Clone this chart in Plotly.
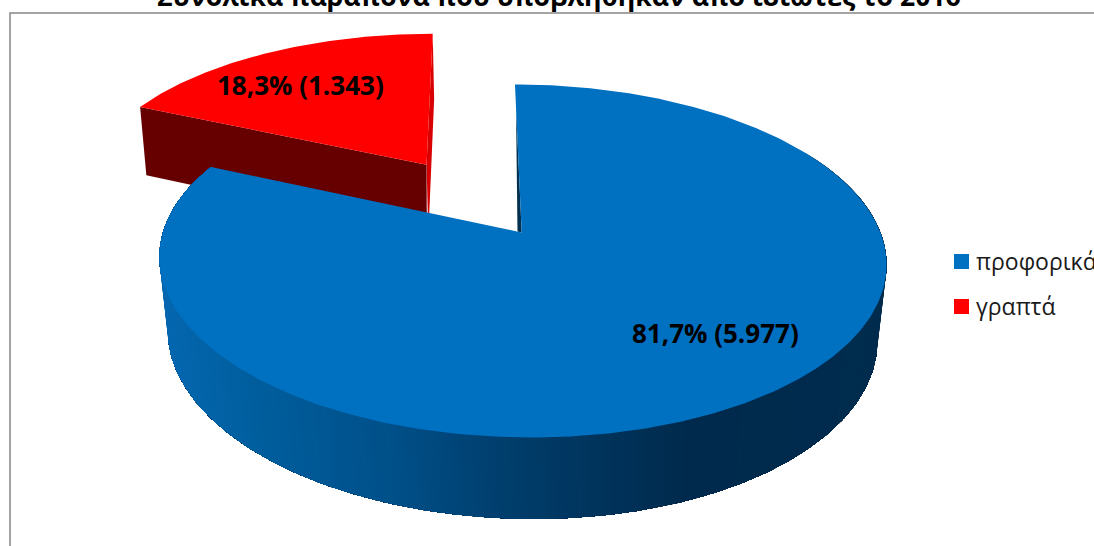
import numpy as np
import plotly.graph_objects as go

# Complaint counts for 2016
categories = ["προφορικά", "γραπτά"]
values = [5977, 1343]
title_text = "Συνολικά παράπονα που υποβλήθηκαν από ιδιώτες το 2016"

BLUE = "#0070C0"
RED = "#FF0000"
RED_WALL = "#660000"
RED_RIM = "#D80000"
BLUE_EDGE = "#00304F"
FONT = "Open Sans"

# Perspective of the pie: camera tilt, plus the top and bottom disc planes
TILT = 0.1615
TOP = dict(x0=521.7, y0=232.5, a=358.7, b=171.9, shear=-7.8)
BOTTOM = dict(x0=520.8, y0=305.8, a=350.0, b=178.7, shear=-10.5)
EXPLODE = 0.503

# Side wall shading, by horizontal position
SHADE_X = [165, 250, 400, 500, 600, 690, 890]
SHADE_RGB = [(5, 103, 176), (0, 95, 159), (0, 79, 136), (0, 63, 110),
             (0, 52, 92), (0, 42, 77), (0, 44, 78)]


def project(plane, u, v):
    """Map pie-plane coordinates (unit radius) onto the axes."""
    u, v = np.asarray(u, float), np.asarray(v, float)
    w = 1 + TILT * v
    return plane["x0"] + plane["a"] * u / w + plane["shear"] * v / w, plane["y0"] - plane["b"] * v / w


def shade(x):
    parts = [np.interp(x, SHADE_X, [c[i] for c in SHADE_RGB]) for i in range(3)]
    return "rgb({:.0f},{:.0f},{:.0f})".format(*parts)


def polygon(x, y, color):
    return go.Scatter(
        x=list(x), y=list(y), mode="lines", fill="toself", fillcolor=color,
        line=dict(color=color, width=0), hoverinfo="skip", showlegend=False,
    )


def label(value, total):
    pct = f"{100 * value / total:.1f}".replace(".", ",")
    digits = str(value)
    return f"{pct}% ({digits[:-3]}.{digits[-3:]})"


total = sum(values)
blue_end = 2 * np.pi * values[0] / total
mid_red = (blue_end + 2 * np.pi) / 2
off_u, off_v = EXPLODE * np.sin(mid_red), EXPLODE * np.cos(mid_red)

fig = go.Figure()

# Exploded red slice: thin right rim, flat cut face, then its top
red_t = np.linspace(blue_end, 2 * np.pi, 90)
ru, rv = np.sin(red_t) + off_u, np.cos(red_t) + off_v
tlx, tly = project(TOP, [ru[0], off_u, ru[-1]], [rv[0], off_v, rv[-1]])
blx, bly = project(BOTTOM, [ru[0], off_u, ru[-1]], [rv[0], off_v, rv[-1]])
fig.add_trace(polygon([tlx[2], tlx[1], blx[1] + 1.5, blx[2] + 3.5], [tly[2], tly[1], bly[1], bly[2]], RED_RIM))
fig.add_trace(polygon([tlx[0], tlx[1], blx[1], blx[0]], [tly[0], tly[1], bly[1], bly[0]], RED_WALL))
rx, ry = project(TOP, np.r_[off_u, ru], np.r_[off_v, rv])
fig.add_trace(polygon(rx, ry, RED))

# Blue side wall: each band covers everything further round the arc, so the
# overlapping fills step smoothly through the shading without seams
WALL_START = np.radians(60)
arc = np.linspace(WALL_START, blue_end, 241)
for i in range(0, len(arc) - 1):
    t = arc[i:]
    tx, ty = project(TOP, np.sin(t), np.cos(t))
    bx, by = project(BOTTOM, np.sin(t), np.cos(t))
    fig.add_trace(polygon(np.r_[tx, bx[::-1]], np.r_[ty, by[::-1]], shade((tx[0] + bx[0]) / 2)))

# Sliver of the blue slice's inner wall seen beside its straight edge
sx, sy = project(TOP, [0, 0], [0.0, 0.83])
fig.add_trace(polygon([sx[0], sx[1], sx[0] - 4.2], [sy[0], sy[1], sy[0] - 1], BLUE_EDGE))

# Blue top face
blue_t = np.linspace(0, blue_end, 400)
bx, by = project(TOP, np.r_[0, np.sin(blue_t)], np.r_[0, np.cos(blue_t)])
fig.add_trace(polygon(bx, by, BLUE))

# Value labels on the slices
for text, x, y in [(label(values[0], total), 715, 333), (label(values[1], total), 300.5, 85)]:
    fig.add_annotation(x=x, y=y, text=f"<b>{text}</b>", showarrow=False,
                       font=dict(family=FONT, size=26, color="black"))

# Chart title, running off the top of the frame
fig.add_annotation(xref="x", x=559, yref="paper", y=1.0, yanchor="middle", yshift=4,
                   text=f"<b>{title_text}</b>", showarrow=False,
                   font=dict(family=FONT, size=26.6, color="black"))

# Key on the right
shapes = [dict(type="rect", x0=10, y0=13, x1=1300, y1=800,
               line=dict(color="#868686", width=1.5), fillcolor="rgba(0,0,0,0)", layer="below")]
for name, color, yc in zip(categories, [BLUE, RED], [261.5, 306.5]):
    shapes.append(dict(type="rect", x0=954, x1=969, y0=yc - 7.5, y1=yc + 7.5,
                       fillcolor=color, line=dict(width=0)))
    fig.add_annotation(x=974, y=yc - 1, text=name, showarrow=False, xanchor="left",
                       font=dict(family=FONT, size=23, color="#1a1a1a"))

fig.update_layout(
    width=1094, height=546, margin=dict(l=0, r=0, t=0, b=0),
    paper_bgcolor="white", plot_bgcolor="white", showlegend=False, shapes=shapes,
    xaxis=dict(range=[0, 1094], visible=False, fixedrange=True),
    yaxis=dict(range=[546, 0], visible=False, fixedrange=True),
)
fig.write_html("out.html", config=dict(displayModeBar=False))
